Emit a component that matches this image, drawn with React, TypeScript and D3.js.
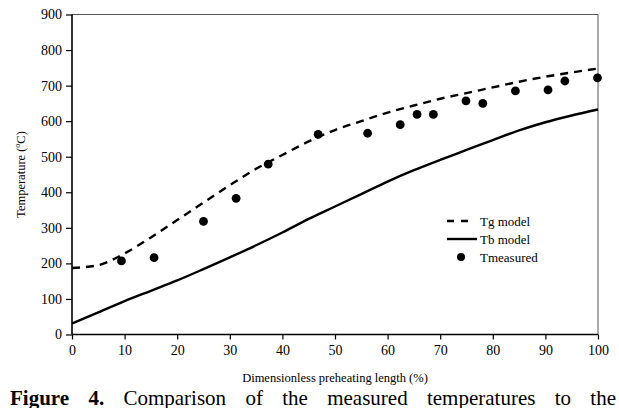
import React, { useEffect, useRef } from 'react';
import * as d3 from 'd3';

// preheating length (%) where the model curves were read
const modelX = [0, 5, 10, 15, 20, 25, 30, 35, 40, 45, 50, 55, 60, 65, 70, 75, 80, 85, 90, 95, 100];
const tgModel = [187, 195, 228, 273, 322, 371, 420, 466, 505, 543, 575, 600, 624, 644, 663, 679, 695, 711, 725, 737, 748];
const tbModel = [31, 62, 94, 123, 152, 184, 217, 251, 287, 325, 360, 395, 430, 462, 491, 519, 547, 574, 597, 616, 633];

// measured temperatures
const measX = [9.4, 15.6, 25, 31.2, 37.3, 46.8, 56.2, 62.4, 65.6, 68.7, 74.9, 78.1, 84.3, 90.5, 93.7, 99.9];
const measY = [207, 216, 318, 383, 479, 563, 566, 590, 619, 619, 657, 650, 685, 688, 713, 722];

const xTicks = [0, 10, 20, 30, 40, 50, 60, 70, 80, 90, 100];
const yTicks = [0, 100, 200, 300, 400, 500, 600, 700, 800, 900];

const legendItems = ['Tg model', 'Tb model', 'Tmeasured'];

export default function App() {
    const ref = useRef<SVGSVGElement>(null);

    useEffect(() => {
        if (!ref.current) return;
        const svg = d3.select(ref.current);
        svg.selectAll('*').remove();

        const W = 619, H = 408;
        const left = 72, right = 598, top = 14.5, bottom = 334.5;
        const font = '"Liberation Serif", "Times New Roman", serif';

        svg.attr('width', W).attr('height', H);

        const x = d3.scaleLinear().domain([0, 100]).range([left, right]);
        const y = d3.scaleLinear().domain([0, 900]).range([bottom, top]);

        // frame (top and right)
        svg.append('line').attr('x1', left).attr('x2', right).attr('y1', top).attr('y2', top)
            .attr('stroke', '#555').attr('stroke-width', 1);
        svg.append('line').attr('x1', right).attr('x2', right).attr('y1', top).attr('y2', bottom)
            .attr('stroke', '#555').attr('stroke-width', 1);

        // axes
        const yAxis = svg.append('g').attr('transform', `translate(${left},0)`)
            .call(d3.axisLeft(y).tickValues(yTicks).tickSize(6).tickPadding(4));
        const xAxis = svg.append('g').attr('transform', `translate(0,${bottom})`)
            .call(d3.axisBottom(x).tickValues(xTicks).tickSize(5).tickPadding(6));
        [xAxis, yAxis].forEach(g => {
            g.attr('font-family', font);
            g.select('.domain').attr('stroke', '#000').attr('stroke-width', 1.6);
            g.selectAll('.tick line').attr('stroke', '#000').attr('stroke-width', 1.2);
            g.selectAll('.tick text').attr('font-family', font).attr('font-size', 14).attr('fill', '#000');
        });
        yAxis.select('.domain').attr('d', `M0,${top}V${bottom}`);
        xAxis.select('.domain').attr('d', `M${left},0H${right}`);

        // model curves
        const line = d3.line<number>()
            .x((_, i) => x(modelX[i]))
            .y(d => y(d))
            .curve(d3.curveMonotoneX);

        svg.append('path').attr('d', line(tbModel))
            .attr('fill', 'none').attr('stroke', '#000').attr('stroke-width', 2.4);
        svg.append('path').attr('d', line(tgModel))
            .attr('fill', 'none').attr('stroke', '#000').attr('stroke-width', 2.4)
            .attr('stroke-dasharray', '8,6');

        // measured points
        svg.append('g').selectAll('circle')
            .data(measY).join('circle')
            .attr('cx', (_, i) => x(measX[i]))
            .attr('cy', d => y(d))
            .attr('r', 4.4)
            .attr('fill', '#000');

        // legend
        const lg = svg.append('g').attr('font-family', font).attr('font-size', 13);
        const lx = 447, ly = 221, step = 18;
        lg.append('line').attr('x1', lx).attr('x2', lx + 21).attr('y1', ly).attr('y2', ly)
            .attr('stroke', '#000').attr('stroke-width', 2.4).attr('stroke-dasharray', '7,7');
        lg.append('line').attr('x1', lx).attr('x2', lx + 30).attr('y1', ly + step).attr('y2', ly + step)
            .attr('stroke', '#000').attr('stroke-width', 2.4);
        lg.append('circle').attr('cx', lx + 14).attr('cy', ly + step * 2).attr('r', 4).attr('fill', '#000');
        legendItems.forEach((t, i) => {
            lg.append('text').attr('x', lx + 33).attr('y', ly + step * i + 4.5).text(t);
        });

        // axis titles
        svg.append('text')
            .attr('x', (left + right) / 2).attr('y', 382)
            .attr('text-anchor', 'middle')
            .attr('font-family', font).attr('font-size', 12.5)
            .text('Dimensionless preheating length (%)');

        const yt = svg.append('text')
            .attr('transform', `translate(25,${(top + bottom) / 2}) rotate(-90)`)
            .attr('text-anchor', 'middle')
            .attr('font-family', font).attr('font-size', 12.5);
        yt.append('tspan').text('Temperature (');
        yt.append('tspan').attr('font-size', 8).attr('dy', -5).text('o');
        yt.append('tspan').attr('dy', 5).text('C)');

        // caption, justified across the page width
        const cap = svg.append('text')
            .attr('x', 10).attr('y', 405)
            .attr('font-family', font).attr('font-size', 21);
        cap.append('tspan').attr('font-weight', 'bold').text('Figure 4.');
        cap.append('tspan').text(' Comparison of the measured temperatures to the');
        const natural = (cap.node() as SVGTextElement).getComputedTextLength();
        cap.attr('word-spacing', Math.max(0, (606 - natural) / 8));
    }, []);

    return <svg ref={ref} style={{ position: 'absolute', left: 0, top: 0 }} />;
}
